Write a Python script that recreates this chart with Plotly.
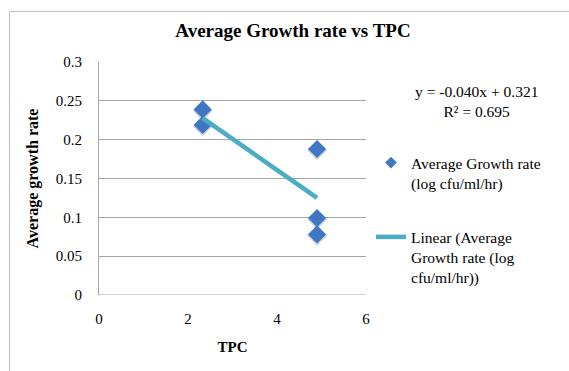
import plotly.graph_objects as go

# Measured data
tpc = [2.33, 2.33, 4.90, 4.90, 4.90]
growth_rate = [0.239, 0.219, 0.188, 0.099, 0.078]

# Linear fit as reported on the chart
slope = -0.040
intercept = 0.321
r_squared = 0.695

x_ticks = [0, 2, 4, 6]
y_ticks = [0, 0.05, 0.1, 0.15, 0.2, 0.25, 0.3]

fit_x = [min(tpc), max(tpc)]
fit_y = [slope * v + intercept for v in fit_x]

serif = "'Times New Roman', 'Liberation Serif', serif"
tick_font = dict(family=serif, size=15, color="#000000")

fig = go.Figure()

# Soft drop shadow under markers
fig.add_trace(go.Scatter(
    x=tpc, y=[v - 0.002 for v in growth_rate], mode="markers",
    marker=dict(symbol="diamond", size=15, color="rgba(40,60,90,0.22)"),
    showlegend=False, hoverinfo="skip",
))

fig.add_trace(go.Scatter(
    x=tpc, y=growth_rate, mode="markers",
    showlegend=False,
    marker=dict(symbol="diamond", size=14, color="#3f77c2", line=dict(width=0)),
))

# Legend entry for the series, with a smaller key symbol
fig.add_trace(go.Scatter(
    x=[None], y=[None], mode="markers",
    name="Average Growth rate<br>(log cfu/ml/hr)",
    legendgroup="a",
    marker=dict(symbol="diamond", size=9, color="#3f77c2"),
))

fig.add_trace(go.Scatter(
    x=fit_x, y=fit_y, mode="lines",
    name="Linear (Average<br>Growth rate (log<br>cfu/ml/hr))",
    legendgroup="b",
    line=dict(color="#4bacc6", width=4.5),
))

fig.update_layout(
    width=569, height=371,
    margin=dict(l=99, r=203, t=62, b=76),
    paper_bgcolor="white", plot_bgcolor="white",
    font=dict(family=serif, size=15, color="#000000"),
    title=dict(text="<b>Average Growth rate vs TPC</b>",
               x=293 / 569, xanchor="center", y=1 - 30 / 371, yanchor="middle",
               font=dict(family=serif, size=19, color="#000000")),
    xaxis=dict(range=[0, 6], tickvals=x_ticks, ticktext=[str(v) for v in x_ticks],
               tickfont=tick_font,
               showgrid=False, zeroline=False, showline=False,
               ticks="", ticklabelstandoff=13,
               title=dict(text="<b>TPC</b>", standoff=15,
                          font=dict(family=serif, size=15, color="#000000"))),
    yaxis=dict(range=[0, 0.3], tickvals=y_ticks,
               ticktext=["0", "0.05", "0.1", "0.15", "0.2", "0.25", "0.3"],
               tickfont=tick_font,
               showgrid=True, gridcolor="#a6a6a6", gridwidth=1,
               zeroline=False, showline=True, linecolor="#a6a6a6", linewidth=1,
               ticks="", ticklabelstandoff=13,
               title=dict(text="<b>Average growth rate</b>", standoff=13,
                          font=dict(family=serif, size=16, color="#000000"))),
    legend=dict(x=(371 - 99) / 267, xanchor="left",
                y=(295 - 146) / 233, yanchor="top",
                valign="top", tracegroupgap=31,
                font=dict(family=serif, size=15.5, color="#000000"),
                bgcolor="rgba(0,0,0,0)"),
    showlegend=True,
    annotations=[
        dict(text=f"y = {slope:.3f}x + {intercept:.3f}<br>R² = {r_squared:.3f}",
             xref="paper", yref="paper",
             x=(476 - 99) / 267, y=(295 - 101) / 233,
             xanchor="center", yanchor="middle", showarrow=False, align="center",
             font=dict(family=serif, size=15.5, color="#000000")),
    ],
    shapes=[
        # Bottom axis line
        dict(type="line", xref="x", yref="y", x0=0, x1=6, y0=0, y1=0,
             line=dict(color="#a6a6a6", width=1)),
        # Chart area frame
        dict(type="rect", xref="paper", yref="paper",
             x0=(9.5 - 99) / 267, x1=(620 - 99) / 267,
             y0=(295 - 420) / 233, y1=(295 - 11.5) / 233,
             line=dict(color="#bfbfbf", width=1), layer="below"),
    ],
)

fig.write_html("out.html")
